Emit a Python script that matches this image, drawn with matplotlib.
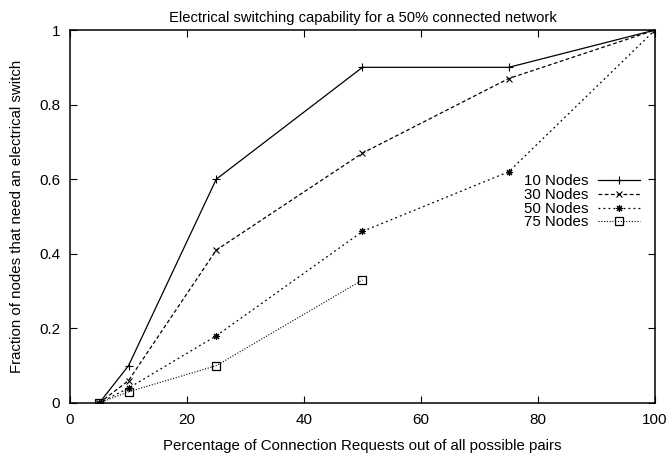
import matplotlib
matplotlib.use('Agg')
import matplotlib.pyplot as plt
from matplotlib import rcParams

# 配置
rcParams.update({
    "font.family": ['Liberation Sans', 'DejaVu Sans'],
    "font.size": 10.8,
})

# 数据
requests = [5, 10, 25, 50, 75, 100]
nodes10 = [0, 0.1, 0.6, 0.9, 0.9, 1.0]
nodes30 = [0, 0.06, 0.41, 0.67, 0.87, 1.0]
nodes50 = [0, 0.04, 0.18, 0.46, 0.62, 1.0]
requests75 = [5, 10, 25, 50]
nodes75 = [0, 0.03, 0.1, 0.33]

x_ticks = [0, 20, 40, 60, 80, 100]
y_ticks = [0, 0.2, 0.4, 0.6, 0.8, 1]
y_tick_labels = ['0', '0.2', '0.4', '0.6', '0.8', '1']

fig = plt.figure(figsize=(6.68, 4.55), dpi=100)
ax = fig.add_axes([0.1048, 0.1143, 0.8757, 0.8197])

ax.plot(requests, nodes10, color='black', lw=0.9, ls='-',
        marker='+', ms=6, mew=0.8, label='10 Nodes')
ax.plot(requests, nodes30, color='black', lw=0.9, ls=(0, (3, 2)),
        marker='x', ms=4.5, mew=0.8, label='30 Nodes')
ax.plot(requests, nodes50, color='black', lw=0.9, ls=(0, (1.5, 2.5)),
        marker=(8, 2, 0), ms=5, mew=0.8, label='50 Nodes')
ax.plot(requests75, nodes75, color='black', lw=0.8, ls=(0, (1, 1.5)),
        marker='s', ms=5.5, mfc='none', mew=0.9, label='75 Nodes')

ax.set_xlim(0, 100)
ax.set_ylim(0, 1)
ax.set_xticks(x_ticks)
ax.set_yticks(y_ticks)
ax.set_yticklabels(y_tick_labels)
ax.tick_params(direction='in', top=True, right=True, length=5, width=0.8,
               labelsize=11)
ax.tick_params(axis='x', pad=7)
ax.tick_params(axis='y', pad=7)
for s in ax.spines.values():
    s.set_linewidth(1.1)

ax.set_title('Electrical switching capability for a 50% connected network',
             fontsize=10.6, pad=6)
ax.set_xlabel('Percentage of Connection Requests out of all possible pairs', labelpad=9)
ax.set_ylabel('Fraction of nodes that need an electrical switch', labelpad=11)

ax.legend(loc='upper right', bbox_to_anchor=(0.985, 0.629), frameon=False,
          markerfirst=False, handlelength=2.8, handletextpad=0.65,
          labelspacing=-0.02, borderaxespad=0, fontsize=10.8)

fig.savefig('out.png', dpi=100)
